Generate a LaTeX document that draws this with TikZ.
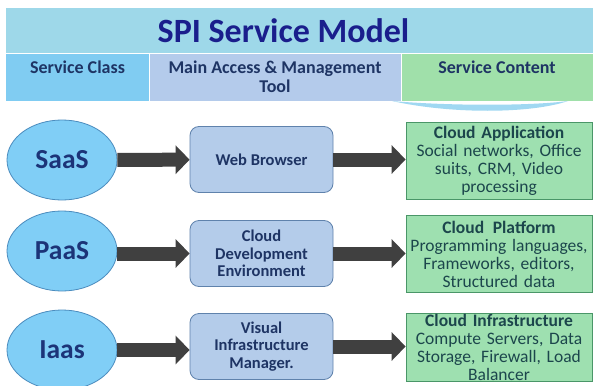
\documentclass[tikz,border=0pt]{standalone}
\usepackage{fontspec}
\setmainfont{Carlito}
\usetikzlibrary{arrows.meta,shapes.geometric}
\definecolor{bandblue}{RGB}{158,216,233}
\definecolor{titlenavy}{RGB}{26,30,140}
\definecolor{classblue}{RGB}{128,204,242}
\definecolor{toolblue}{RGB}{180,203,235}
\definecolor{contgreen}{RGB}{160,224,170}
\definecolor{hdrtext}{RGB}{30,52,100}
\definecolor{ellfill}{RGB}{128,206,246}
\definecolor{elldraw}{RGB}{75,140,190}
\definecolor{ellnavy}{RGB}{28,52,120}
\definecolor{boxfill}{RGB}{180,204,234}
\definecolor{boxdraw}{RGB}{95,130,172}
\definecolor{gfill}{RGB}{158,224,176}
\definecolor{gdraw}{RGB}{74,150,104}
\definecolor{gtext}{RGB}{28,70,76}
\definecolor{arrgray}{RGB}{64,64,64}
\definecolor{glint}{RGB}{160,216,242}
\tikzset{
  hdr/.style={fill=#1, minimum height=48pt, inner sep=1pt, align=center,
              font=\fontsize{18}{19}\selectfont\bfseries, text=hdrtext},
  svc/.style={ellipse, draw=elldraw, thick, fill=ellfill, minimum width=110pt,
              minimum height=80pt, font=\fontsize{27.5}{28}\selectfont\bfseries, text=ellnavy},
  toolbox/.style={draw=boxdraw, thick, fill=boxfill, rounded corners=9pt,
              minimum width=143pt, minimum height=66pt, align=center,
              font=\fontsize{16.5}{17.5}\selectfont\bfseries, text=hdrtext},
  contbox/.style={draw=gdraw, thick, fill=gfill, minimum width=186pt,
              minimum height=77pt, text width=184pt, align=center, inner sep=1pt,
              font=\fontsize{17.5}{18}\selectfont, text=gtext},
  blockarr/.style={-{Triangle[length=14pt,width=28pt]}, arrgray, line width=14pt},
}
\begin{document}
\begin{tikzpicture}[x=1pt, y=-1pt]
  \useasboundingbox[fill=white] (0,0) rectangle (593,385);
  % title and header row
  \node[fill=bandblue, minimum width=587pt, minimum height=45pt, inner sep=0pt,
        font=\fontsize{34}{35}\selectfont\bfseries, text=titlenavy]
        (title) at (299.5,30.5) {\hspace*{-32pt}SPI Service Model};
  \node[hdr=classblue, minimum width=143pt] (hclass) at (77.5,77) {Service Class\\\phantom{Tool}};
  \node[hdr=toolblue, minimum width=252pt] (htool) at (275,77) {Main Access \& Management\\Tool};
  \node[hdr=contgreen, minimum width=192pt] (hcont) at (497,77) {Service Content\\\phantom{Tool}};
  \draw[white, thick] (title.south west) -- (title.south east);
  \draw[white, thick] (hclass.north east) -- (hclass.south east);
  \draw[white, thick] (htool.north east) -- (htool.south east);
  \fill[glint] (392,101) .. controls (450,114) and (530,114) .. (568,101)
        .. controls (530,106) and (450,106) .. (392,101) -- cycle;
  % service classes
  \node[svc] (saas) at (62,160) {SaaS};
  \node[svc] (paas) at (62,251) {PaaS};
  \node[svc] (iaas) at (62,350) {Iaas};
  % access tools
  \node[toolbox] (web) at (261.5,159.5) {Web Browser};
  \node[toolbox] (dev) at (261.5,253.5) {Cloud\\Development\\Environment};
  \node[toolbox] (vis) at (261.5,346.5) {Visual\\Infrastructure\\Manager.};
  % service content
  \node[contbox] (app) at (499,160.5) {{\bfseries Cloud Application}\\Social networks, Office\\suits, CRM, Video\\processing};
  \node[contbox] (plat) at (499,254) {{\bfseries Cloud\, Platform}\\Programming languages,\\Frameworks, editors,\\Structured data};
  \node[contbox, anchor=north, minimum height=0pt] (infra) at (499,313) {{\bfseries Cloud Infrastructure}\\Compute Servers, Data\\Storage, Firewall, Load\\Balancer};
  % arrows
  \draw[blockarr] (saas) -- (web);
  \draw[blockarr] (paas.east |- dev) -- (dev);
  \draw[blockarr] (iaas) -- (vis.west |- iaas);
  \draw[blockarr] (web) -- (app.west |- web);
  \draw[blockarr] (dev) -- (plat.west |- dev);
  \draw[blockarr] (vis) -- (infra.west |- vis);
\end{tikzpicture}
\end{document}
